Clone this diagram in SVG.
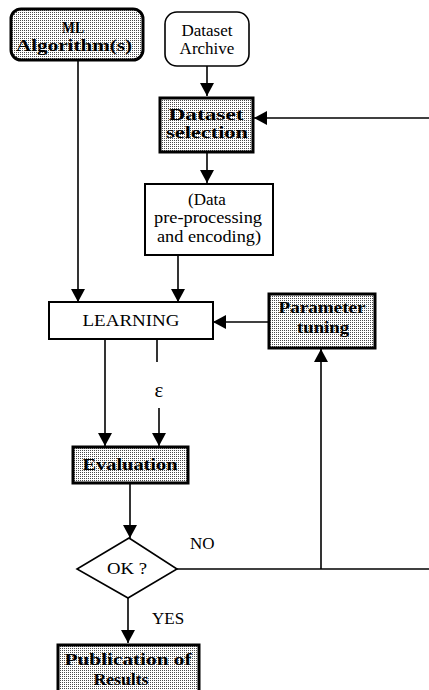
<svg xmlns="http://www.w3.org/2000/svg" width="429" height="690" viewBox="0 0 429 690">
  <defs>
    <!-- halftone fill used by the emphasised steps -->
    <pattern id="dots" width="2" height="2" patternUnits="userSpaceOnUse">
      <rect width="2" height="2" fill="#ffffff"/>
      <rect width="1" height="1" fill="#4a4a4a"/>
    </pattern>
    <marker id="arrow" markerUnits="userSpaceOnUse" markerWidth="14" markerHeight="14" refX="13" refY="7" orient="auto">
      <path d="M0,0 L13,7 L0,14 z" fill="#000"/>
    </marker>
    <style>
      .heavy { fill: url(#dots); stroke: #000; stroke-width: 3; }
      .plain { fill: #fff; stroke: #000; stroke-width: 2; }
      .bold { font-family: "Liberation Serif", "Times New Roman", serif; font-weight: bold; font-size: 17px; text-anchor: middle; fill: #000; }
      .reg { font-family: "Liberation Serif", "Times New Roman", serif; font-size: 17px; text-anchor: middle; fill: #000; }
      .lbl { font-family: "Liberation Serif", "Times New Roman", serif; font-size: 17px; fill: #000; }
      .edge { fill: none; stroke: #000; stroke-width: 1.6; }
      .arr { marker-end: url(#arrow); }
    </style>
  </defs>

  <!-- connectors -->
  <g id="connectors">
    <line class="edge arr" x1="78" y1="61" x2="78" y2="302"/>
    <line class="edge arr" x1="207" y1="66" x2="207" y2="96"/>
    <line class="edge arr" x1="429" y1="118" x2="254" y2="118"/>
    <line class="edge arr" x1="207" y1="153" x2="207" y2="183"/>
    <line class="edge arr" x1="178" y1="255" x2="178" y2="302"/>
    <line class="edge arr" x1="268" y1="322" x2="213" y2="322"/>
    <line class="edge arr" x1="105" y1="339" x2="105" y2="446"/>
    <line class="edge" x1="157" y1="339" x2="157" y2="362"/>
    <line class="edge arr" x1="159" y1="408" x2="159" y2="446"/>
    <line class="edge arr" x1="130" y1="484" x2="130" y2="538"/>
    <line class="edge" x1="177" y1="569" x2="429" y2="569"/>
    <line class="edge arr" x1="321" y1="569" x2="321" y2="349"/>
    <line class="edge arr" x1="128" y1="598" x2="128" y2="643"/>
    <text class="lbl" x="159" y="397" text-anchor="middle" style="font-size:21px">ε</text>
    <text class="lbl" x="190" y="549">NO</text>
    <text class="lbl" x="152" y="624">YES</text>
  </g>

  <g id="ml-algorithms">
    <rect class="heavy" x="11" y="9" width="132" height="51" rx="10"/>
    <text class="bold" x="73" y="33" textLength="22" lengthAdjust="spacingAndGlyphs">ML</text>
    <text class="bold" x="74" y="51" textLength="116" lengthAdjust="spacingAndGlyphs">Algorithm(s)</text>
  </g>

  <g id="dataset-archive">
    <rect x="165" y="12" width="84" height="54" rx="12" fill="#fff" stroke="#000" stroke-width="1.6"/>
    <text class="reg" x="207" y="36">Dataset</text>
    <text class="reg" x="207" y="54">Archive</text>
  </g>

  <g id="dataset-selection">
    <rect class="heavy" x="160" y="98" width="93" height="54"/>
    <text class="bold" x="206" y="120" textLength="75" lengthAdjust="spacingAndGlyphs">Dataset</text>
    <text class="bold" x="207" y="138" textLength="82" lengthAdjust="spacingAndGlyphs">selection</text>
  </g>

  <g id="preprocessing">
    <rect class="plain" x="145" y="184" width="128" height="71"/>
    <text class="reg" x="207" y="205">(Data</text>
    <text class="reg" x="208" y="223" textLength="108" lengthAdjust="spacingAndGlyphs">pre-processing</text>
    <text class="reg" x="209" y="242" textLength="104" lengthAdjust="spacingAndGlyphs">and encoding)</text>
  </g>

  <g id="learning">
    <rect class="plain" x="49" y="302" width="164" height="37"/>
    <text class="reg" x="131" y="326" textLength="97" lengthAdjust="spacingAndGlyphs">LEARNING</text>
  </g>

  <g id="parameter-tuning">
    <rect class="heavy" x="269" y="294" width="106" height="54"/>
    <text class="bold" x="322" y="313" textLength="87" lengthAdjust="spacingAndGlyphs">Parameter</text>
    <text class="bold" x="323" y="333" textLength="52" lengthAdjust="spacingAndGlyphs">tuning</text>
  </g>

  <g id="evaluation">
    <rect class="heavy" x="73" y="447" width="115" height="36"/>
    <text class="bold" x="130" y="470" textLength="95" lengthAdjust="spacingAndGlyphs">Evaluation</text>
  </g>

  <g id="ok-decision">
    <path d="M129,538 L177,569 L128,598 L77,569 z" fill="#fff" stroke="#000" stroke-width="1.6"/>
    <text class="reg" x="127" y="574" textLength="40" lengthAdjust="spacingAndGlyphs">OK ?</text>
  </g>

  <g id="publication">
    <rect class="heavy" x="58" y="645" width="141" height="50"/>
    <text class="bold" x="128" y="665" textLength="127" lengthAdjust="spacingAndGlyphs">Publication of</text>
    <text class="bold" x="121" y="685" textLength="55" lengthAdjust="spacingAndGlyphs">Results</text>
  </g>
</svg>
